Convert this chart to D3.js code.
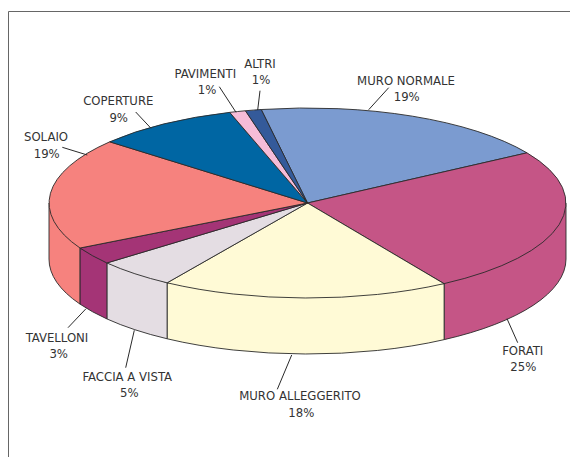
<!DOCTYPE html>
<html>
<head>
<meta charset="utf-8">
<script src="https://cdn.jsdelivr.net/npm/d3@7"></script>
<style>
    html, body { margin: 0; padding: 0; background: #fff; overflow: hidden; }
    svg { display: block; }
</style>
</head>
<body>
<div id="chart"></div>
<script>
// Data
var categories = ["MURO NORMALE", "FORATI", "MURO ALLEGGERITO", "FACCIA A VISTA", "TAVELLONI", "SOLAIO", "COPERTURE", "PAVIMENTI", "ALTRI"];
var percents = [19, 25, 18, 5, 3, 19, 9, 1, 1];
var colors = ["#7b9bd0", "#c55586", "#fffad6", "#e4dde3", "#a43476", "#f6827e", "#0066a3", "#f6bcd8", "#345a9a"];

// Hand placed labels and leaders: [label x, name baseline, percent x, percent baseline, x1, y1, x2, y2]
var labelLayout = [
    [406, 85, 406.7, 101, 368.7, 109.7, 388.7, 87.7],
    [522.7, 355.3, 523.3, 371, 507, 318.7, 517.7, 342.7],
    [300, 400, 301.3, 417, 291.7, 355, 277.3, 389.3],
    [127.3, 381.3, 129.3, 397, 134.3, 330.3, 125.7, 367.7],
    [57, 342, 58.7, 358, 86, 308.7, 68, 327.7],
    [46, 141, 46.7, 157.7, 87.3, 155, 62.3, 147.3],
    [118.3, 105, 118.7, 121.7, 151, 128.3, 135.7, 112],
    [205.3, 78, 207, 94, 236, 112.3, 219.3, 86.7],
    [260, 67.7, 261, 84, 257.7, 110, 260, 90.7]
];

var width = 570, height = 457;
var depth = 56;
var startAngle = -10.3 * Math.PI / 180;
var ink = "#2a2a2a";

// Ellipse of the pie top, unit circle to pixels
var x = d3.scaleLinear().domain([-1, 1]).range([49, 566]);
var y = d3.scaleLinear().domain([-1, 1]).range([108, 298]);
var rx = (x(1) - x(-1)) / 2, ry = (y(1) - y(-1)) / 2;

var svg = d3.select("#chart").append("svg")
    .attr("width", width)
    .attr("height", height);

// Frame, open to the right and the bottom
svg.append("path")
    .attr("d", "M8.5," + height + "V11.5H" + width)
    .attr("fill", "none")
    .attr("stroke", "#666")
    .attr("stroke-width", 1);

var pie = d3.pie().sort(null).startAngle(startAngle).endAngle(startAngle + 2 * Math.PI);
var slices = pie(percents);

// Wall of one slice, only the part that faces the viewer
function wallPath(a0, a1) {
    var p0 = [x(Math.sin(a0)), y(-Math.cos(a0))];
    var p1 = [x(Math.sin(a1)), y(-Math.cos(a1))];
    return "M" + p0 + "L" + p1 +
        "v" + depth +
        "A" + rx + "," + ry + " 0 0 0 " + p0[0] + "," + (p0[1] + depth) + "Z";
}

var walls = slices.map(function(d, i) {
    return {a0: Math.max(d.startAngle, Math.PI / 2), a1: Math.min(d.endAngle, 3 * Math.PI / 2), i: i};
}).filter(function(d) { return d.a1 > d.a0; });

svg.append("g").selectAll("path")
    .data(walls)
    .join("path")
    .attr("d", function(d) {
        // the top edge is hidden by the top faces, so a chord is enough here
        return wallPath(d.a0, d.a1);
    })
    .attr("fill", function(d) { return colors[d.i]; })
    .attr("stroke", ink)
    .attr("stroke-width", 0.9)
    .attr("stroke-linejoin", "round");

// Cover the chords between wall and top with the side colours
svg.append("g").selectAll("path")
    .data(walls)
    .join("path")
    .attr("transform", "translate(" + x(0) + "," + y(0) + ") scale(" + rx + "," + ry + ")")
    .attr("d", function(d) {
        return d3.arc().innerRadius(0).outerRadius(1)({startAngle: d.a0, endAngle: d.a1});
    })
    .attr("fill", function(d) { return colors[d.i]; });

// Top faces
var arc = d3.arc().innerRadius(0).outerRadius(1);
svg.append("g")
    .attr("transform", "translate(" + x(0) + "," + y(0) + ") scale(" + rx + "," + ry + ")")
    .selectAll("path")
    .data(slices)
    .join("path")
    .attr("d", arc)
    .attr("fill", function(d, i) { return colors[i]; })
    .attr("stroke", ink)
    .attr("stroke-width", 0.9)
    .attr("stroke-linejoin", "round")
    .attr("vector-effect", "non-scaling-stroke");

// Leaders
svg.append("g").selectAll("line")
    .data(labelLayout)
    .join("line")
    .attr("x1", function(d) { return d[4]; })
    .attr("y1", function(d) { return d[5]; })
    .attr("x2", function(d) { return d[6]; })
    .attr("y2", function(d) { return d[7]; })
    .attr("stroke", ink)
    .attr("stroke-width", 1);

// Labels
var labels = svg.append("g")
    .attr("font-family", "'DejaVu Sans Condensed', 'DejaVu Sans', sans-serif")
    .attr("font-stretch", "condensed")
    .attr("font-size", "13px")
    .attr("fill", "#333")
    .attr("text-anchor", "middle");

labels.selectAll("text.name")
    .data(categories)
    .join("text")
    .attr("class", "name")
    .attr("x", function(d, i) { return labelLayout[i][0]; })
    .attr("y", function(d, i) { return labelLayout[i][1]; })
    .text(function(d) { return d; });

labels.selectAll("text.pct")
    .data(percents)
    .join("text")
    .attr("class", "pct")
    .attr("x", function(d, i) { return labelLayout[i][2]; })
    .attr("y", function(d, i) { return labelLayout[i][3]; })
    .text(function(d) { return d + "%"; });
</script>
</body>
</html>
